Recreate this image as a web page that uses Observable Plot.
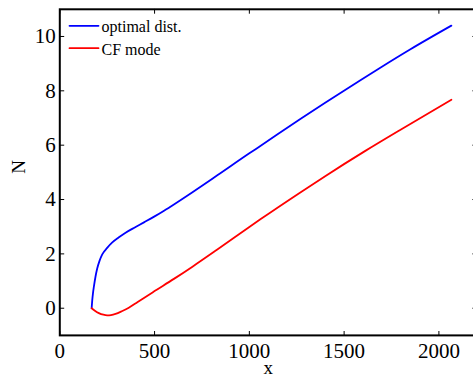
<!DOCTYPE html>
<html><head><meta charset="utf-8">
<script src="https://cdn.jsdelivr.net/npm/d3@7"></script>
<script src="https://cdn.jsdelivr.net/npm/@observablehq/plot@0.6"></script>
<style>html,body{margin:0;padding:0;background:#fff;} #chart{width:473px;height:375px;overflow:hidden;}</style>
</head><body><div id="chart"></div>
<script>
// Series: optimal distribution
const xOptimal = [168, 171, 175, 180, 188, 197, 210, 224, 250, 277, 310, 347, 400, 444, 500, 550, 602, 700, 831, 1000, 1060, 1271, 1400, 1588, 1693, 1850, 2066];
const nOptimal = [0, 0.28, 0.55, 0.8, 1.15, 1.45, 1.75, 1.98, 2.22, 2.42, 2.6, 2.78, 2.99, 3.16, 3.38, 3.59, 3.82, 4.27, 4.89, 5.7, 5.98, 6.97, 7.56, 8.4, 8.86, 9.53, 10.4];
// Series: CF mode
const xCF = [168, 185, 206, 230, 250, 270, 294, 330, 364, 409, 444, 500, 602, 700, 831, 1000, 1060, 1271, 1400, 1614, 1800, 2066];
const nCF = [0, -0.09, -0.18, -0.24, -0.26, -0.25, -0.21, -0.1, 0.02, 0.22, 0.38, 0.63, 1.08, 1.53, 2.16, 2.99, 3.28, 4.27, 4.86, 5.8, 6.58, 7.67];

const xTicks = [0, 500, 1000, 1500, 2000];
const yTicks = [0, 2, 4, 6, 8, 10];
const xDomain = [0, 2200];
const yDomain = [-1, 11];
const seriesNames = ["optimal dist.", "CF mode"];
const seriesColors = ["#0000ff", "#ff0000"];
const xLabel = "x";
const yLabel = "N";

const optimal = xOptimal.map((x, i) => ({x, n: nOptimal[i]}));
const cf = xCF.map((x, i) => ({x, n: nCF[i]}));

const font = "'Liberation Serif', 'Times New Roman', serif";
const lineShape = {draw(c, l) { c.moveTo(0, 0); c.lineTo(0, -l); }};
const tickUp = {draw(c, l) { c.moveTo(0, 0); c.lineTo(0, -l); }};
const tickDown = {draw(c, l) { c.moveTo(0, 0); c.lineTo(0, l); }};
const tickRight = {draw(c, l) { c.moveTo(0, 0); c.lineTo(l, 0); }};
const tickLeft = {draw(c, l) { c.moveTo(0, 0); c.lineTo(-l, 0); }};
const tickStyle = {length: 4, anchor: "start", stroke: "#000", strokeWidth: 1};

const plot = Plot.plot({
  width: 473, height: 375,
  marginLeft: 59.3, marginRight: -3.3, marginTop: 8.8, marginBottom: 40.1,
  style: {fontFamily: font, background: "#fff", color: "#000", overflow: "hidden"},
  x: {domain: xDomain},
  y: {domain: yDomain},
  marks: [
    Plot.line(optimal, {x: "x", y: "n", stroke: seriesColors[0], strokeWidth: 1.8, curve: "monotone-x"}),
    Plot.line(cf, {x: "x", y: "n", stroke: seriesColors[1], strokeWidth: 1.8, curve: "monotone-x"}),
    Plot.axisX(xTicks, {anchor: "bottom", tickSize: 0, tickPadding: 8, tickFormat: d3.format("d"), fontSize: 21, label: null, fill: "#000"}),
    Plot.axisY(yTicks, {anchor: "left", tickSize: 0, tickPadding: 4, tickFormat: d3.format("d"), fontSize: 21, label: null, fill: "#000"}),
    Plot.vector(xTicks, {x: d => d, frameAnchor: "bottom", shape: tickUp, ...tickStyle}),
    Plot.vector(xTicks, {x: d => d, frameAnchor: "top", shape: tickDown, ...tickStyle}),
    Plot.vector(yTicks, {y: d => d, frameAnchor: "left", shape: tickRight, ...tickStyle}),
    Plot.vector(yTicks, {y: d => d, frameAnchor: "right", shape: tickLeft, ...tickStyle}),
    Plot.frame({stroke: "#000", strokeWidth: 2}),
    Plot.text([xLabel], {frameAnchor: "bottom", lineAnchor: "middle", dy: 32.5, fontSize: 19, fill: "#000"}),
    Plot.text([yLabel], {frameAnchor: "left", lineAnchor: "middle", rotate: -90, dx: -41.1, dy: 1.5, fontSize: 19, fill: "#000"}),
    Plot.vector([0], {frameAnchor: "top-left", dx: 9.7, dy: 16.5, length: 29, rotate: 90, anchor: "start", stroke: seriesColors[0], strokeWidth: 1.8, shape: lineShape}),
    Plot.vector([0], {frameAnchor: "top-left", dx: 9.7, dy: 38.9, length: 29, rotate: 90, anchor: "start", stroke: seriesColors[1], strokeWidth: 1.8, shape: lineShape}),
    Plot.text([seriesNames[0]], {frameAnchor: "top-left", lineAnchor: "middle", dx: 41.7, dy: 17.8, textAnchor: "start", fontSize: 16, fill: "#000"}),
    Plot.text([seriesNames[1]], {frameAnchor: "top-left", lineAnchor: "middle", dx: 41.7, dy: 40.1, textAnchor: "start", fontSize: 16, fill: "#000"})
  ]
});
document.getElementById("chart").appendChild(plot);
</script>
</body></html>
